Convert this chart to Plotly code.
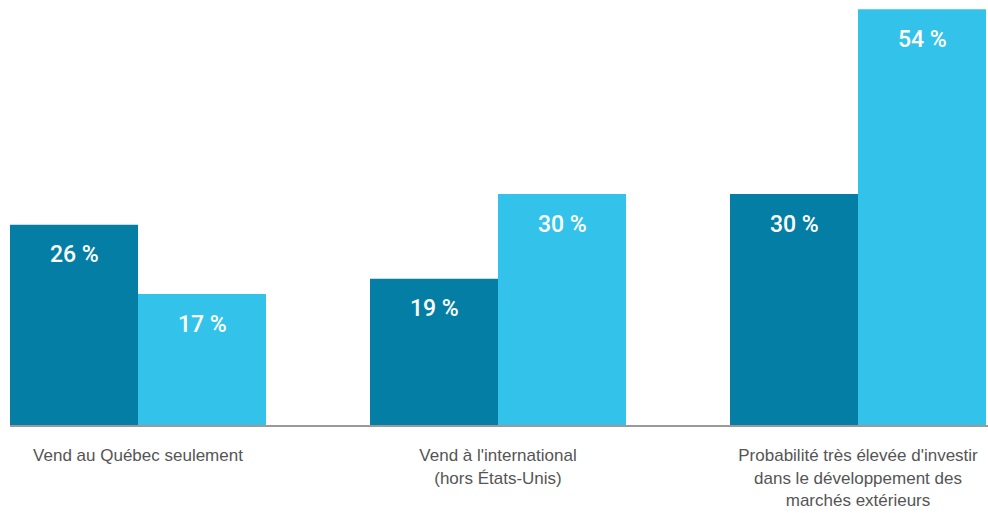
import plotly.graph_objects as go

categories = ["Vend au Québec seulement",
              "Vend à l'international<br>(hors États-Unis)",
              "Probabilité très élevée d'investir<br>dans le développement des<br>marchés extérieurs"]
series_a = [26, 19, 30]
series_b = [17, 30, 54]
labels_a = ["26 %", "19 %", "30 %"]
labels_b = ["17 %", "30 %", "54 %"]

dark = "#047EA5"
light = "#33C3EA"
x = [0, 1, 2]

fig = go.Figure()
fig.add_trace(go.Bar(x=x, y=series_a, marker_color=dark, marker_line_width=0, hoverinfo="skip"))
fig.add_trace(go.Bar(x=x, y=series_b, marker_color=light, marker_line_width=0, hoverinfo="skip"))

off = 64 / 360
for i in range(3):
    for vals, labs, dx in ((series_a, labels_a, -off), (series_b, labels_b, off)):
        fig.add_annotation(x=x[i] + dx, y=vals[i], text=labs[i], showarrow=False,
                           yanchor="middle", yshift=-30,
                           font=dict(family="Roboto", size=23, color="white", weight=500))

fig.update_layout(
    width=988, height=513,
    margin=dict(l=10, r=0, t=0, b=88),
    paper_bgcolor="white", plot_bgcolor="white",
    barmode="group", bargap=(360 - 256) / 360, bargroupgap=0,
    showlegend=False,
    xaxis=dict(range=[-128 / 360, (988 - 138) / 360], tickvals=x, ticktext=categories,
               showgrid=False, zeroline=False, showline=True, linecolor="#9a9a9a", linewidth=2,
               ticks="", ticklabelstandoff=14, automargin=False,
               tickfont=dict(family="Liberation Sans", size=17, color="#555555")),
    yaxis=dict(range=[0, 425 / 7.7], visible=False, showgrid=False, zeroline=False),
)
fig.write_html("out.html", config={"displayModeBar": False},
               post_script="document.body.style.margin='0';document.body.style.overflow='hidden';")
